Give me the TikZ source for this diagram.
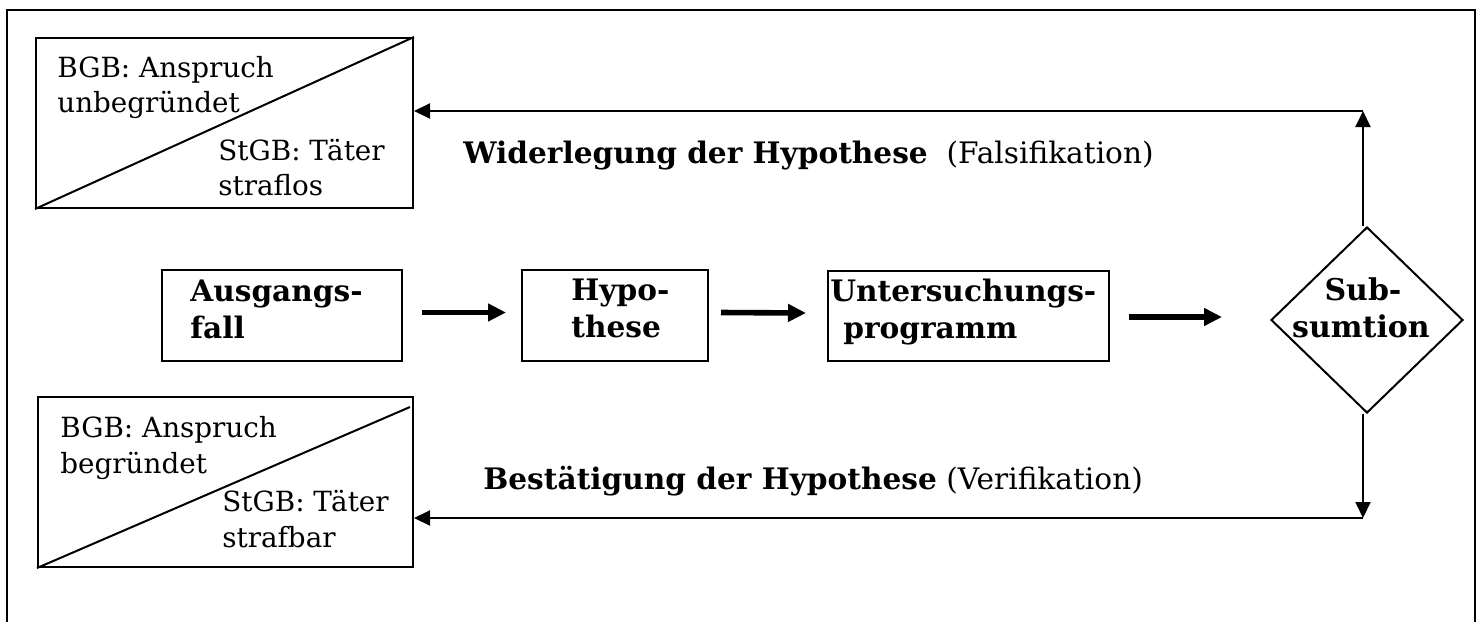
\documentclass[tikz,border=0pt]{standalone}
\usepackage{fontspec}
\setmainfont{DejaVu Serif}
\newfontfamily\geo{DejaVu Serif}
\usetikzlibrary{shapes.geometric,arrows.meta}
\begin{document}
\begin{tikzpicture}[x=0.5pt,y=-0.5pt,
  box/.style={draw,line width=1pt,inner sep=0pt},
  bt/.style={inner sep=0pt,anchor=base west,font=\geo\fontsize{14.8}{18.5}\selectfont\bfseries},
  gt/.style={inner sep=0pt,anchor=base west,font=\geo\fontsize{13.9}{16}\selectfont},
  st/.style={inner sep=0pt,anchor=base,font=\geo\fontsize{15}{18}\selectfont\bfseries},
  lt/.style={inner sep=0pt,anchor=base west,font=\geo\fontsize{14.8}{18}\selectfont},
  conn/.style={line width=1pt},
  connarrow/.style={conn,-{Triangle[length=8pt,width=7.5pt]}},
  boldarrow/.style={line width=2.8pt,-{Triangle[length=9pt,width=8.5pt]}}
]
\useasboundingbox (0,0) rectangle (1480,622);
% outer frame
\draw[line width=1.2pt] (7,622) -- (7,10) -- (1475,10) -- (1475,622);

% top result box
\node[box, minimum width=188.5pt, minimum height=85pt] (fbox) at (224.5,123) {};
\draw[conn] (fbox.south west) -- (fbox.north east);
\node[gt] (f1) at (57,77) {BGB: Anspruch};
\node[gt] (f2) at (57,112) {unbegründet};
\node[gt] (f3) at (218,160) {StGB: Täter};
\node[gt] (f4) at (218,195) {straflos};

% bottom result box
\node[box, minimum width=187.5pt, minimum height=85pt] (vbox) at (225.5,482) {};
\coordinate (vdiag) at (410,407);
\draw[conn] (vbox.south west) -- (vdiag);
\node[gt] (v1) at (60,437) {BGB: Anspruch};
\node[gt] (v2) at (60,473) {begründet};
\node[gt] (v3) at (222,511) {StGB: Täter};
\node[gt] (v4) at (222,547) {strafbar};

% main chain
\node[box, minimum width=120pt, minimum height=45.5pt] (aus) at (282,315.5) {};
\node[bt] (aus1) at (190,301) {Ausgangs-};
\node[bt] (aus2) at (190,338) {fall};

\node[box, minimum width=93pt, minimum height=45.5pt] (hyp) at (615,315.5) {};
\node[bt] (hyp1) at (571,300) {Hypo-};
\node[bt] (hyp2) at (571,337) {these};

\node[box, minimum width=140.5pt, minimum height=45pt] (unt) at (968.5,316) {};
\node[bt] (unt1) at (830,301) {Untersuchungs-};
\node[bt] (unt2) at (843,338) {programm};

\node[draw, line width=1pt, diamond, aspect=1, inner sep=0pt,
      minimum width=96pt, minimum height=93pt] (sub) at (1367,320) {};
\node[st] (sub1) at (1363,300) {Sub-};
\node[st] (sub2) at (1361,337) {sumtion};

\draw[boldarrow] ([xshift=9.5pt,yshift=1.5pt]aus.east) -- ([xshift=-7.5pt,yshift=1.5pt]hyp.west);
\draw[boldarrow] ([xshift=6pt,yshift=1.5pt]hyp.east) -- ([xshift=-10.5pt,yshift=1.5pt]unt.west);
\draw[boldarrow] ([xshift=9.5pt,yshift=-0.5pt]unt.east) -- ([xshift=-24pt,yshift=-0.5pt]unt.east -| sub.west);

% feedback connectors
\coordinate (tc) at (1363,111);
\coordinate (bc) at (1363,518);
\draw[connarrow] (tc |- sub.north) -- (tc);
\draw[connarrow] (tc) -- (fbox.east |- tc);
\draw[connarrow] (tc |- sub.south) -- (bc);
\draw[connarrow] (bc) -- (vbox.east |- bc);

% labels
\node[lt] (wid) at (463,163)
  {\textbf{Widerlegung der Hypothese}\ \ (Falsifikation)};
\node[lt] (best) at (483,489)
  {\textbf{Bestätigung der Hypothese} (Verifikation)};
\end{tikzpicture}
\end{document}
